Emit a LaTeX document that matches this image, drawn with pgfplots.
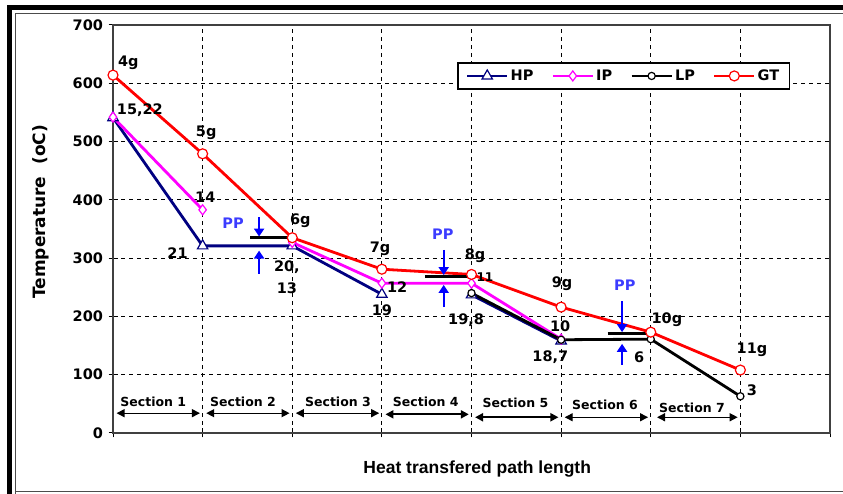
\documentclass[border=0pt]{standalone}
\usepackage{fontspec}
\setmainfont{DejaVu Sans}
\newfontfamily\arialfont{Liberation Sans}
\usepackage{pgfplots}
\pgfplotsset{compat=1.18}
\usetikzlibrary{arrows.meta}

\definecolor{hpcol}{RGB}{0,0,128}
\definecolor{ipcol}{RGB}{255,0,255}
\definecolor{gtcol}{RGB}{255,0,0}
\definecolor{ppcol}{RGB}{60,60,255}
\definecolor{arrblue}{RGB}{0,0,255}

\newcommand\lab{\bfseries\fontsize{14.5}{16}\selectfont}
\newcommand\seclab{\bfseries\fontsize{12.5}{14}\selectfont}

\tikzset{
  secarrow/.style={black, line width=1.3pt,
    {Triangle[length=8pt,width=8pt]}-{Triangle[length=8pt,width=8pt]}},
  pparrow/.style={arrblue, line width=2.2pt, -{Triangle[length=8pt,width=10pt]}},
}

\begin{document}
\begin{tikzpicture}[x=1pt,y=1pt]
\useasboundingbox (0,0) rectangle (843,494);
% window frame
\fill[black] (7,484) rectangle (843,489);
\fill[black] (7,0) rectangle (12,489);
\draw[black!70,line width=1pt] (15,0) -- (15,480) -- (843,480);
\draw[black!70,line width=1pt] (15,2) -- (843,2);

\begin{axis}[
  at={(113pt,61pt)}, anchor=south west,
  scale only axis, width=717pt, height=408pt,
  xmin=0, xmax=8, ymin=0, ymax=700,
  xtick={0,...,8}, xticklabels={},
  ytick={0,100,...,700},
  tick align=center, xtick pos=bottom, ytick pos=left,
  major tick length=9pt,
  tick style={black, line width=1pt},
  axis line style={black!75, line width=1.2pt},
  grid=major,
  major grid style={black, line width=1pt, dash pattern=on 4pt off 4pt},
  yticklabel style={font=\lab, xshift=-2pt},
  /pgf/number format/assume math mode=true,
  xlabel={\arialfont\bfseries\fontsize{17.5}{20}\selectfont Heat transfered path length},
  every axis x label/.style={at={(rel axis cs:0.508,-0.088)}, anchor=center},
  ylabel={\bfseries\fontsize{17}{19}\selectfont Temperature\ \ (oC)},
  every axis y label/.style={at={(rel axis cs:-0.100,0.542)}, rotate=90, anchor=center},
  legend columns=4,
  legend style={at={(rel axis cs:0.48,0.909)}, anchor=north west,
    draw=black, line width=1.4pt, font=\lab, inner ysep=5pt, inner xsep=8pt,
    /tikz/every even column/.append style={column sep=16pt}},
  legend image code/.code={\draw[mark repeat=2,mark phase=2,#1]
    plot coordinates {(0pt,0pt) (20pt,0pt) (40pt,0pt)};},
  unbounded coords=jump,
]

% HP circuit
\addplot[hpcol, line width=2.8pt, mark=triangle*, mark size=6pt,
  mark options={fill=white, line width=1.2pt, solid}]
  coordinates {(0,541) (1,321) (2,321) (3,238) (3.5,nan) (4,237) (5,158)};
\addlegendentry{HP}
% IP circuit
\addplot[ipcol, line width=2.8pt, mark=diamond*, mark size=5pt,
  mark options={fill=white, line width=1.2pt, solid}]
  coordinates {(0,542) (1,383) (1.5,nan) (2,327) (3,257) (4,257) (5,161)};
\addlegendentry{IP}
% LP circuit
\addplot[black, line width=2.8pt, mark=*, mark size=3.6pt,
  mark options={fill=white, line width=1.2pt, solid}]
  coordinates {(4,240) (5,160) (6,161) (7,63)};
\addlegendentry{LP}
% gas turbine exhaust
\addplot[gtcol, line width=2.8pt, mark=*, mark size=5pt,
  mark options={fill=white, line width=1.2pt, solid}]
  coordinates {(0,614) (1,479) (2,335) (3,281) (4,272) (5,216) (6,173) (7,108)};
\addlegendentry{GT}

% pinch point bars
\addplot[black, line width=2.8pt, forget plot] coordinates {(1.53,335) (1.94,335)};
\addplot[black, line width=2.8pt, forget plot] coordinates {(3.48,269) (3.95,269)};
\addplot[black, line width=2.8pt, forget plot] coordinates {(5.52,171) (5.96,171)};

% pinch point arrows
\draw[pparrow] (axis cs:1.63,370) -- (axis cs:1.63,337);
\draw[pparrow] (axis cs:1.63,273) -- (axis cs:1.63,313);
\draw[pparrow] (axis cs:3.69,314) -- (axis cs:3.69,271);
\draw[pparrow] (axis cs:3.69,216) -- (axis cs:3.69,254);
\draw[pparrow] (axis cs:5.68,226) -- (axis cs:5.68,173);
\draw[pparrow] (axis cs:5.68,117) -- (axis cs:5.68,153);
\node[font=\lab, text=ppcol] at (axis cs:1.34,360) {PP};
\node[font=\lab, text=ppcol] at (axis cs:3.68,341) {PP};
\node[font=\lab, text=ppcol] at (axis cs:5.71,254) {PP};

% sections
\draw[secarrow] (axis cs:0.04,34) -- (axis cs:0.97,34);
\draw[secarrow] (axis cs:1.04,34) -- (axis cs:1.97,34);
\draw[secarrow] (axis cs:2.04,34) -- (axis cs:2.97,34);
\draw[secarrow, line width=2pt] (axis cs:3.04,32) -- (axis cs:3.97,32);
\draw[secarrow, line width=2pt] (axis cs:4.04,27) -- (axis cs:4.97,27);
\draw[secarrow] (axis cs:5.04,27) -- (axis cs:5.97,27);
\draw[secarrow] (axis cs:6.07,27) -- (axis cs:6.97,27);
\node[font=\seclab] at (axis cs:0.45,53) {Section 1};
\node[font=\seclab] at (axis cs:1.45,53) {Section 2};
\node[font=\seclab] at (axis cs:2.51,53) {Section 3};
\node[font=\seclab] at (axis cs:3.49,53) {Section 4};
\node[font=\seclab] at (axis cs:4.49,51) {Section 5};
\node[font=\seclab] at (axis cs:5.49,48) {Section 6};
\node[font=\seclab] at (axis cs:6.46,43) {Section 7};

% stream labels
\node[font=\lab] at (axis cs:0.17,636) {4g};
\node[font=\lab] at (axis cs:0.30,554) {15,22};
\node[font=\lab] at (axis cs:1.04,515) {5g};
\node[font=\lab] at (axis cs:1.03,405) {14};
\node[font=\lab] at (axis cs:0.72,309) {21};
\node[font=\lab] at (axis cs:2.09,365) {6g};
\node[font=\lab] at (axis cs:1.94,285) {20,};
\node[font=\lab] at (axis cs:1.94,249) {13};
\node[font=\lab] at (axis cs:2.98,316) {7g};
\node[font=\lab] at (axis cs:3.17,250) {12};
\node[font=\lab] at (axis cs:3.00,211) {19};
\node[font=\lab] at (axis cs:4.04,304) {8g};
\node[font=\bfseries\fontsize{12}{14}\selectfont] at (axis cs:4.15,268) {11};
\node[font=\lab] at (axis cs:3.94,194) {19,8};
\node[font=\lab] at (axis cs:5.01,257) {9g};
\node[font=\lab] at (axis cs:4.99,184) {10};
\node[font=\lab] at (axis cs:4.88,130) {18,7};
\node[font=\lab] at (axis cs:6.18,194) {10g};
\node[font=\lab] at (axis cs:7.13,142) {11g};
\node[font=\lab] at (axis cs:7.13,74) {3};
\node[font=\lab] at (axis cs:5.87,130) {6};
\end{axis}
\end{tikzpicture}
\end{document}
